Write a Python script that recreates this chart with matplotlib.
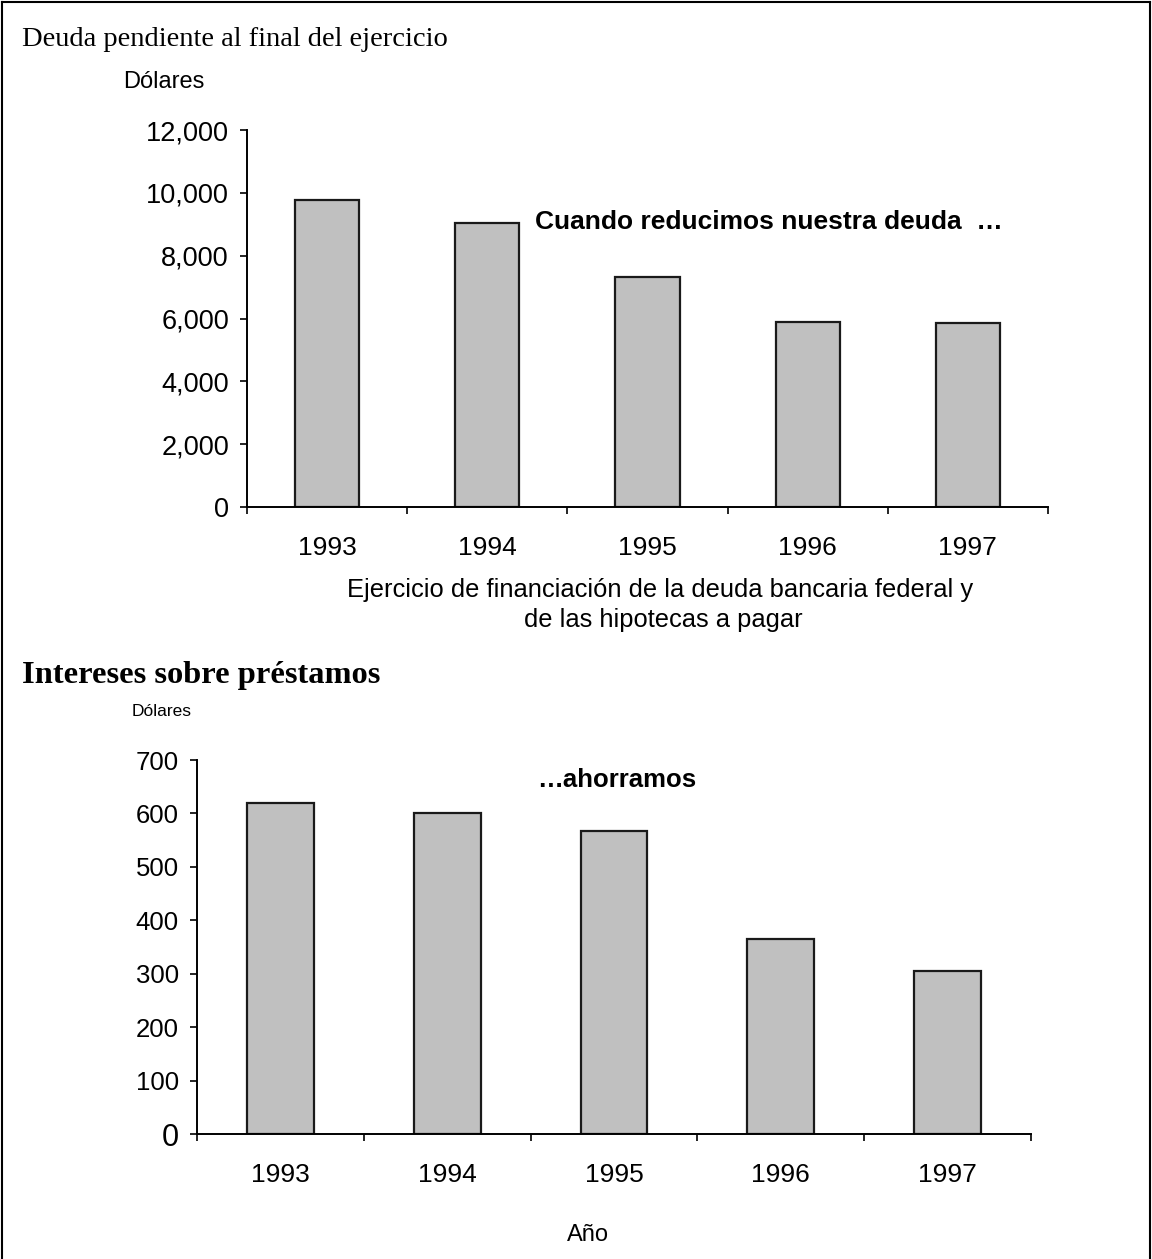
import matplotlib
matplotlib.use("Agg")
import matplotlib.pyplot as plt
from matplotlib.lines import Line2D

# ---- data ----
years = ["1993", "1994", "1995", "1996", "1997"]
deuda = [9770, 9030, 7330, 5900, 5860]
deuda_ticks = [0, 2000, 4000, 6000, 8000, 10000, 12000]
intereses = [619, 600, 567, 365, 306]
intereses_ticks = [0, 100, 200, 300, 400, 500, 600, 700]

W, H = 1152, 1259
SANS = ["Liberation Sans", "DejaVu Sans"]
SERIF = ["Liberation Serif", "DejaVu Serif"]
plt.rcParams["font.family"] = SANS

fig = plt.figure(figsize=(W / 100, H / 100), dpi=100)


def fx(px):
    return px / W


def fy(py):
    return 1 - py / H


def make_axes(left, right, top, bottom):
    return fig.add_axes([fx(left), fy(bottom), fx(right) - fx(left), fy(top) - fy(bottom)])


def style(ax, values, ticks, fmt, ysize, zero_size=None):
    x = list(range(len(years)))
    ax.bar(x, values, width=0.4, color="#c0c0c0", edgecolor="#1a1a1a", linewidth=1.6, zorder=2)
    ax.set_xlim(-0.5, len(years) - 0.5)
    ax.set_ylim(ticks[0], ticks[-1])
    for s in ["top", "right"]:
        ax.spines[s].set_visible(False)
    for s in ["left", "bottom"]:
        ax.spines[s].set_linewidth(1.4)
        ax.spines[s].set_color("black")
    ax.set_yticks(ticks)
    ax.set_yticklabels([fmt(t) for t in ticks])
    ax.tick_params(axis="y", direction="out", length=5, width=1.2, pad=8, labelsize=ysize)
    if zero_size:
        ax.get_yticklabels()[0].set_fontsize(zero_size)
    ax.set_xticks(x)
    ax.set_xticklabels(years)
    ax.set_xticks([i - 0.5 for i in range(len(years) + 1)], minor=True)
    ax.tick_params(axis="x", which="major", length=0, pad=21, labelsize=19)
    ax.tick_params(axis="x", which="minor", direction="out", length=5, width=1.2)


# Top chart
ax1 = make_axes(247, 1048, 130, 507)
style(ax1, deuda, deuda_ticks, lambda t: f"{t:,}", 19.5)
ax1.text((535 - 247) / (1048 - 247), (507 - 222) / (507 - 130),
         "Cuando reducimos nuestra deuda  \u2026", transform=ax1.transAxes,
         fontsize=19, fontweight="bold", ha="left", va="center")

fig.text(fx(22), fy(40), "Deuda pendiente al final del ejercicio", family=SERIF,
         fontsize=20.5, ha="left", va="center")
fig.text(fx(123), fy(82), "Dólares", fontsize=17, ha="left", va="center")
fig.text(fx(660), fy(590), "Ejercicio de financiación de la deuda bancaria federal y",
         fontsize=18.4, ha="center", va="center")
fig.text(fx(663), fy(620), "de las hipotecas a pagar", fontsize=18.4, ha="center", va="center")

# Bottom chart
ax2 = make_axes(197, 1031, 760, 1134)
style(ax2, intereses, intereses_ticks, lambda t: f"{t}", 18.5, zero_size=22)
ax2.text((537 - 197) / (1031 - 197), (1134 - 780) / (1134 - 760),
         "\u2026ahorramos", transform=ax2.transAxes,
         fontsize=18.5, fontweight="bold", ha="left", va="center")

fig.text(fx(22), fy(675), "Intereses sobre préstamos", family=SERIF,
         fontsize=23.4, fontweight="bold", ha="left", va="center")
fig.text(fx(132), fy(712), "Dólares", fontsize=12.5, ha="left", va="center")
fig.text(fx(588), fy(1235), "Año", fontsize=17, ha="center", va="center")

# Frame around the figure
for xs, ys in [([fx(2), fx(2)], [fy(2), 0]),
               ([fx(2), fx(1150)], [fy(2), fy(2)]),
               ([fx(1150), fx(1150)], [fy(2), 0])]:
    fig.add_artist(Line2D(xs, ys, transform=fig.transFigure, color="black", linewidth=1.5))

fig.savefig("out.png", dpi=100, facecolor="white")
